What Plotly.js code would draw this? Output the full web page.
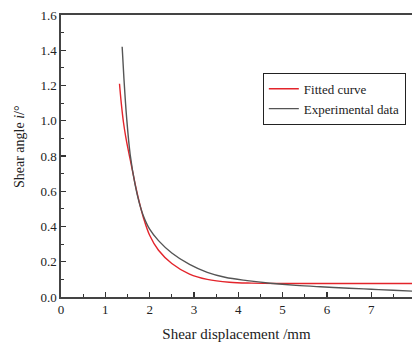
<!DOCTYPE html>
<html><head><meta charset="utf-8">
<script src="https://cdn.plot.ly/plotly-3.0.1.min.js"></script>
<style>html,body{margin:0;padding:0;background:#fff}#c{width:412px;height:342px}</style>
</head><body><div id="c"></div>
<script>
const fitX = [1.32, 1.36, 1.41, 1.46, 1.52, 1.57, 1.67, 1.76, 1.86, 2.0, 2.2, 2.5, 2.9, 3.3, 3.8, 4.3, 5.0, 6.0, 7.0, 7.95];
const fitY = [1.21, 1.10, 0.99, 0.91, 0.83, 0.77, 0.645, 0.545, 0.45, 0.35, 0.265, 0.19, 0.13, 0.10, 0.084, 0.079, 0.077, 0.077, 0.077, 0.077];
const expX = [1.38, 1.42, 1.48, 1.56, 1.67, 1.76, 1.86, 2.0, 2.2, 2.5, 2.9, 3.3, 3.7, 4.2, 4.72, 5.3, 5.85, 6.5, 7.0, 7.5, 7.95];
const expY = [1.42, 1.24, 1.02, 0.81, 0.64, 0.54, 0.46, 0.385, 0.32, 0.25, 0.185, 0.14, 0.112, 0.093, 0.078, 0.066, 0.058, 0.05, 0.044, 0.038, 0.033];
const seriesNames = ["Fitted curve", "Experimental data"];
const xTitle = "Shear displacement /mm";
const yTitle = "Shear angle <i>i</i>/°";

const font = {family: "Liberation Serif, Times New Roman, serif", color: "#222"};
Plotly.newPlot("c", [
  {x: fitX, y: fitY, name: seriesNames[0], mode: "lines", line: {color: "#e3242b", width: 1.4, shape: "spline", smoothing: 1}},
  {x: expX, y: expY, name: seriesNames[1], mode: "lines", line: {color: "#555555", width: 1.4, shape: "spline", smoothing: 1}}
], {
  width: 412, height: 342,
  margin: {l: 61, r: 0, t: 15, b: 45},
  paper_bgcolor: "#fff", plot_bgcolor: "#fff",
  font: Object.assign({size: 13}, font),
  showlegend: true,
  legend: {x: 0.575, y: 0.795, xanchor: "left", yanchor: "top", bgcolor: "#fff", bordercolor: "#222", borderwidth: 1,
    font: Object.assign({size: 13}, font), tracegroupgap: 0, itemwidth: 30},
  xaxis: {range: [0, 7.92], tickvals: [0,1,2,3,4,5,6,7], ticks: "inside", ticklen: 5, tickwidth: 1.2, tickcolor: "#333",
    minor: {dtick: 0.5, ticks: "inside", ticklen: 3, tickcolor: "#333", tickwidth: 1},
    showgrid: false, zeroline: false, showline: true, linecolor: "#444", linewidth: 1.6, mirror: true,
    tickfont: Object.assign({size: 13}, font),
    title: {text: xTitle, font: Object.assign({size: 15}, font), standoff: 12}},
  yaxis: {range: [0, 1.6], dtick: 0.2, tickformat: ".1f", ticks: "inside", ticklen: 5, tickwidth: 1.2, tickcolor: "#333",
    minor: {dtick: 0.1, ticks: "inside", ticklen: 3, tickcolor: "#333", tickwidth: 1},
    showgrid: false, zeroline: false, showline: true, linecolor: "#444", linewidth: 1.6,
    tickfont: Object.assign({size: 13}, font)},
  annotations: [{text: yTitle, textangle: -90, xref: "paper", yref: "paper", x: -0.12, y: 0.535,
    xanchor: "center", yanchor: "middle", showarrow: false, font: Object.assign({size: 14}, font)}]
}, {displayModeBar: false, staticPlot: true});
</script></body></html>
